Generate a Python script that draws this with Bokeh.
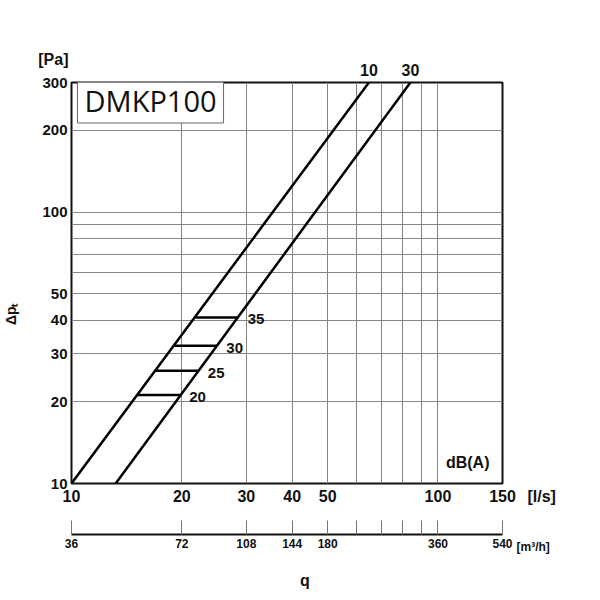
from bokeh.plotting import figure
from bokeh.models import Range1d, FixedTicker, Label, ColumnDataSource, LogAxis, LinearAxis
from bokeh.layouts import column
from bokeh.embed import file_html
from bokeh.resources import INLINE
from bokeh.core.properties import value

# ---------------- data ----------------
flow_ticks = [10, 20, 30, 40, 50, 100, 150]
flow_tick_labels = ["10", "20", "30", "40", "50", "100", "150"]
flow_grid = [20, 30, 40, 50, 60, 70, 80, 90, 100]

pressure_ticks = [10, 20, 30, 40, 50, 100, 200, 300]
pressure_tick_labels = ["10", "20", "30", "40", "50", "100", "200", "300"]
pressure_grid = [20, 30, 40, 50, 60, 70, 80, 90, 100, 200]

m3h_ticks = [36, 72, 108, 144, 180, 216, 252, 288, 324, 360, 540]
m3h_tick_labels = ["36", "72", "108", "144", "180", "", "", "", "", "360", "540"]

series_names = ["10", "30"]
series_q = [[10.0, 64.8], [13.2, 84.1]]
series_dp = [[10.0, 300.0], [10.0, 300.0]]

db_levels = ["20", "25", "30", "35"]
db_dp = [21.2, 26.0, 32.2, 40.9]
db_q_left = [15.1, 16.95, 19.0, 21.8]
db_q_right = [19.8, 22.25, 25.0, 28.6]

FONT = "Liberation Sans"
INK = "#111111"
W = 584
LEFT, RIGHT = 71, 82


def bare(fig):
    fig.background_fill_color = "white"
    fig.border_fill_color = "white"
    fig.outline_line_color = None
    fig.grid.visible = False


def style_axis(ax, size, standoff):
    ax.axis_line_color = None
    ax.major_tick_line_color = None
    ax.minor_tick_line_color = None
    ax.major_tick_out = 0
    ax.major_tick_in = 0
    ax.major_label_text_font = FONT
    ax.major_label_text_font_style = "bold"
    ax.major_label_text_font_size = size
    ax.major_label_text_color = INK
    ax.major_label_standoff = standoff


# ---------------- main chart ----------------
p = figure(width=W, height=508, title=None, x_axis_type="log", y_axis_type="log",
           x_range=Range1d(10, 150), y_range=Range1d(10, 300),
           output_backend="svg", toolbar_location=None,
           min_border_left=LEFT, min_border_right=RIGHT,
           min_border_top=82, min_border_bottom=25)
p.background_fill_color = "white"
p.border_fill_color = "white"
p.outline_line_color = INK
p.outline_line_width = 2

xa = p.xaxis[0]
xa.ticker = FixedTicker(ticks=flow_ticks)
xa.major_label_overrides = dict(zip(flow_ticks, flow_tick_labels))
style_axis(xa, "16px", 6)
ya = p.yaxis[0]
ya.ticker = FixedTicker(ticks=pressure_ticks)
ya.major_label_overrides = dict(zip(pressure_ticks, pressure_tick_labels))
style_axis(ya, "15px", 4)

# series names at the upper ends of the curves
series_top_q = [q[-1] for q in series_q]
ta = LogAxis(ticker=FixedTicker(ticks=series_top_q),
             major_label_overrides=dict(zip(series_top_q, series_names)))
style_axis(ta, "16px", 7)
p.add_layout(ta, "above")

# unit of the pressure axis
p.add_layout(Label(x=10, y=300, text="[Pa]", x_offset=-3, y_offset=23,
                   text_align="right", text_baseline="middle",
                   text_font=FONT, text_font_style="bold", text_font_size="16px",
                   text_color=INK), "above")

# quantity name on a second left axis, rotated
dp_name_at = 42
la = LogAxis(ticker=FixedTicker(ticks=[dp_name_at]),
             major_label_overrides={dp_name_at: "Δpₜ"})
style_axis(la, "14px", 20)
la.major_label_orientation = "vertical"
p.add_layout(la, "left")

# unit of the flow axis
ra = LogAxis(ticker=FixedTicker(ticks=[10]), major_label_overrides={10: "\n[l/s]"})
style_axis(ra, "16px", 25)
ra.major_label_text_line_height = 1.55
p.add_layout(ra, "right")

p.xgrid.ticker = FixedTicker(ticks=flow_grid)
p.ygrid.ticker = FixedTicker(ticks=pressure_grid)
for g in (p.xgrid, p.ygrid):
    g.grid_line_color = "#858585"
    g.grid_line_width = 1

for qs, dps in zip(series_q, series_dp):
    p.line(qs, dps, line_color="black", line_width=2.5)

p.segment(x0=db_q_left, x1=db_q_right, y0=db_dp, y1=db_dp,
          line_color="black", line_width=2.5)

db_src = ColumnDataSource(dict(x=db_q_right, y=db_dp, t=db_levels))
p.text(x="x", y="y", text="t", source=db_src, x_offset=9, y_offset=2,
       text_font=value(FONT), text_font_style="bold", text_font_size="15px",
       text_align="left", text_baseline="middle", text_color=INK)

p.add_layout(Label(x=150, y=10, text="dB(A)", x_offset=-13, y_offset=21,
                   text_align="right", text_baseline="middle",
                   text_font=FONT, text_font_style="bold", text_font_size="16px",
                   text_color=INK))
p.add_layout(Label(x=10, y=300, text="DMKP100", x_offset=6, y_offset=-18,
                   text_align="left", text_baseline="middle",
                   text_font="Open Sans", text_font_size="29px", text_color=INK,
                   border_line_color="#666666", border_line_width=1,
                   background_fill_color="white", padding=(7, 3)))

# ---------------- secondary flow axis (m3/h) ----------------
p2 = figure(width=W, height=48, title=None, x_axis_type="log",
            x_range=Range1d(36, 540), y_range=Range1d(0, 1),
            output_backend="svg", toolbar_location=None,
            y_axis_location=None,
            min_border_left=LEFT, min_border_right=RIGHT,
            min_border_top=10, min_border_bottom=22)
bare(p2)
a2 = p2.xaxis[0]
a2.ticker = FixedTicker(ticks=m3h_ticks)
a2.major_label_overrides = dict(zip(m3h_ticks, m3h_tick_labels))
a2.axis_line_color = INK
a2.axis_line_width = 2
a2.major_tick_line_color = "#777777"
a2.major_tick_line_width = 1
a2.major_tick_in = 14
a2.major_tick_out = 0
a2.minor_tick_line_color = None
a2.major_label_standoff = 4
a2.major_label_text_font = FONT
a2.major_label_text_font_style = "bold"
a2.major_label_text_font_size = "12px"
a2.major_label_text_color = INK

r2 = LinearAxis(ticker=FixedTicker(ticks=[0]), major_label_overrides={0: "\n[m³/h]"})
style_axis(r2, "12px", 14)
r2.major_label_text_line_height = 1.78
p2.add_layout(r2, "right")

# ---------------- bottom strip: quantity name ----------------
p3 = figure(width=W, height=40, title=None, x_axis_type="log",
            x_range=p2.x_range, y_range=Range1d(0, 40),
            output_backend="svg", toolbar_location=None,
            x_axis_location=None, y_axis_location=None,
            min_border_left=LEFT, min_border_right=RIGHT,
            min_border_top=0, min_border_bottom=0)
bare(p3)
q_mid = (m3h_ticks[0] * m3h_ticks[-1]) ** 0.5
p3.text(x=[q_mid], y=[16], text=["q"], x_offset=18,
        text_font=value(FONT), text_font_style="bold", text_font_size="16px",
        text_align="center", text_baseline="middle", text_color=INK)

layout = column(p, p2, p3)
open("out.html", "w").write(file_html(layout, INLINE))
